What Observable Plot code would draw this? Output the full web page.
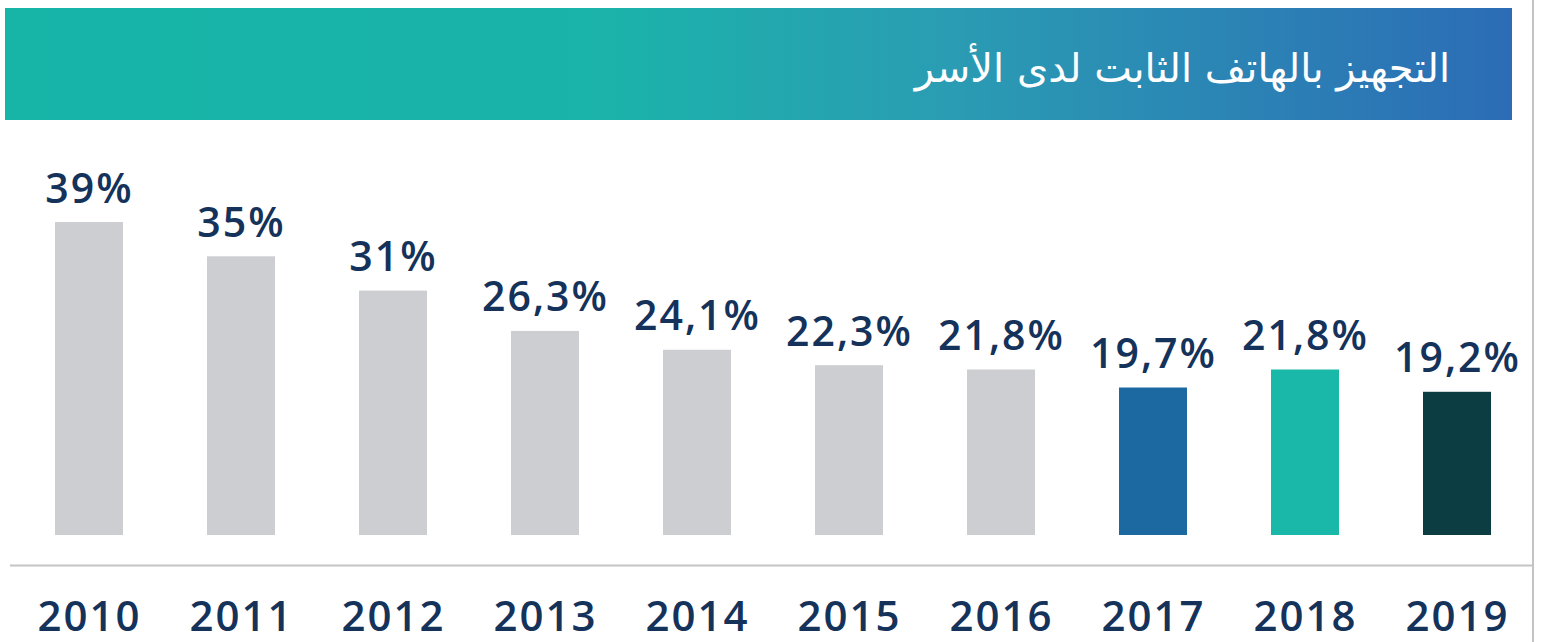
<!DOCTYPE html>
<html>
<head>
<meta charset="utf-8">
<script src="https://cdn.jsdelivr.net/npm/d3@7"></script>
<script src="https://cdn.jsdelivr.net/npm/@observablehq/plot@0.6"></script>
<style>
  html, body { margin: 0; padding: 0; background: #fff; }
  #wrap { position: relative; width: 1547px; height: 642px; overflow: hidden; }
  #header {
    position: absolute; left: 5px; top: 8px; width: 1507px; height: 112px;
    background: linear-gradient(90deg, #16b5a8 0%, #1bb3aa 40%, #2a9db3 62%, #2c6cb6 100%);
  }
  #title {
    position: absolute; right: 62px; top: 33px;
    direction: rtl; color: #fff; font-family: "DejaVu Sans", sans-serif;
    font-size: 40px; line-height: 54px; white-space: nowrap;
  }
  #vline { position: absolute; left: 1532px; top: 0; width: 2px; height: 642px; background: #c3c3c3; }
  #chart { position: absolute; left: 0; top: 120px; }
  #chart svg text { letter-spacing: 2px; }
</style>
</head>
<body>
<div id="wrap">
  <div id="header"><div id="title">التجهيز بالهاتف الثابت لدى الأسر</div></div>
  <div id="chart"></div>
  <div id="vline"></div>
</div>
<script>
const years = ["2010","2011","2012","2013","2014","2015","2016","2017","2018","2019"];
const values = [39, 35, 31, 26.3, 24.1, 22.3, 21.8, 19.7, 21.8, 19.2];
const barColors = ["#cdced2","#cdced2","#cdced2","#cdced2","#cdced2","#cdced2","#cdced2","#1b69a0","#1ab8a8","#0b3d42"];

const fmt = v => String(v).replace(".", ",") + "%";
const table = years.map((year, i) => ({ year, value: values[i], label: fmt(values[i]) }));

const chart = Plot.plot({
  width: 1547,
  height: 522,
  marginLeft: 54,
  marginRight: 56,
  marginTop: 102,
  marginBottom: 107,
  style: { fontFamily: "'Open Sans', sans-serif", background: "transparent", overflow: "visible" },
  x: { type: "band", domain: years, paddingInner: 0.553, paddingOuter: 0, axis: null },
  y: { domain: [2.5, 39], clamp: true, axis: null },
  color: { domain: years, range: barColors },
  marks: [
    Plot.barY(table, { x: "year", y: "value", fill: "year" }),
    Plot.text(table, { x: "year", y: "value", text: "label", dy: -20, lineAnchor: "bottom",
      fontSize: 41, fontWeight: 600, fill: "#14325a" }),
    Plot.ruleY([0], { dy: 30, insetLeft: -44, insetRight: -42, stroke: "#c4c4c4", strokeWidth: 2 }),
    Plot.text(table, { x: "year", text: "year", frameAnchor: "bottom", dy: 95, lineAnchor: "bottom",
      fontSize: 42, fontWeight: 600, fill: "#14325a" })
  ]
});
document.getElementById("chart").appendChild(chart);
</script>
</body>
</html>
